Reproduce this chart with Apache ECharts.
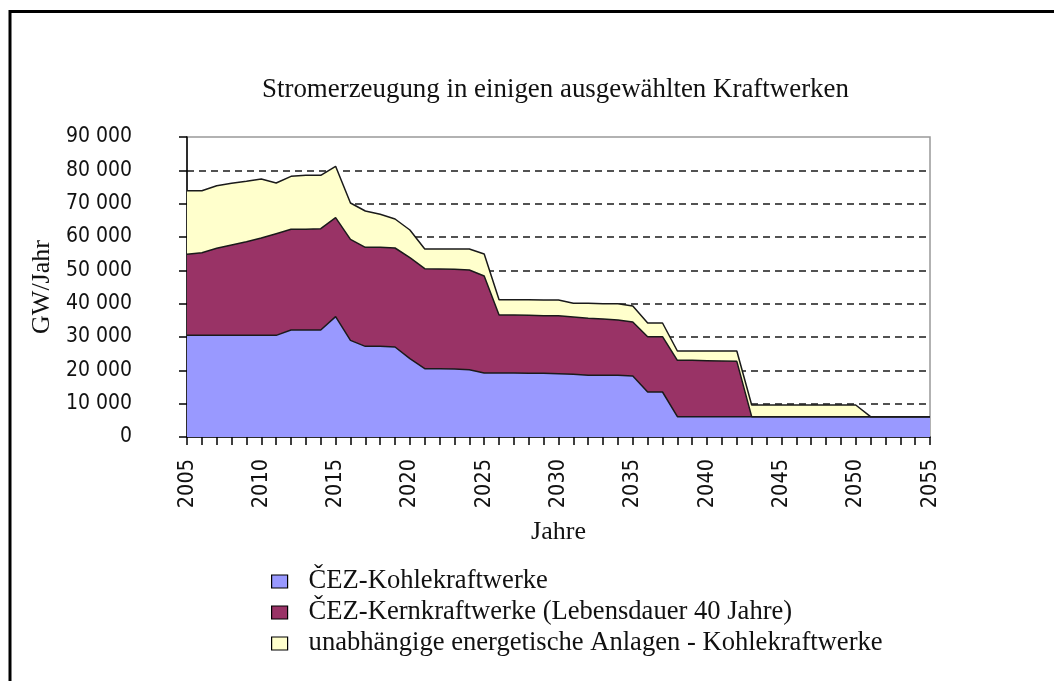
<!DOCTYPE html>
<html>
<head>
<meta charset="utf-8">
<script src="https://cdn.jsdelivr.net/npm/echarts@6/dist/echarts.min.js"></script>
<style>
  html, body { margin: 0; padding: 0; background: #fff; }
  #container { width: 1054px; height: 681px; }
</style>
</head>
<body>
<div id="container"></div>
<script>
// Jahre auf der x-Achse
var years = ['2005','2006','2007','2008','2009','2010','2011','2012','2013','2014',
  '2015','2016','2017','2018','2019','2020','2021','2022','2023','2024',
  '2025','2026','2027','2028','2029','2030','2031','2032','2033','2034',
  '2035','2036','2037','2038','2039','2040','2041','2042','2043','2044',
  '2045','2046','2047','2048','2049','2050','2051','2052','2053','2054','2055'];

// ČEZ-Kohlekraftwerke (GW/Jahr)
var kohleCez = [30500,30500,30500,30500,30500,30500,30500,32100,32100,32100,
  36100,29000,27200,27200,27000,23500,20500,20500,20400,20200,
  19200,19200,19200,19100,19100,19000,18800,18500,18500,18500,
  18300,13500,13500,6100,6100,6100,6100,6100,6100,6100,
  6100,6100,6100,6100,6100,6100,6100,6100,6100,6100,6100];

// ČEZ-Kernkraftwerke (Lebensdauer 40 Jahre)
var kernCez = [24300,24800,26100,27100,28100,29200,30500,30200,30200,30400,
  29700,30300,29700,29700,29700,30300,30000,29900,29900,29900,
  29100,17400,17400,17400,17300,17400,17200,17100,16900,16600,
  16200,16600,16600,16900,16900,16800,16700,16600,0,0,
  0,0,0,0,0,0,0,0,0,0,0];

// unabhängige energetische Anlagen - Kohlekraftwerke
var kohleUnabh = [19100,18600,18800,18500,18100,17700,15200,15900,16200,16000,
  15400,10900,10900,9900,8700,8300,5900,6000,6100,6300,
  6600,4600,4600,4700,4700,4700,4100,4500,4600,4900,
  4800,4100,4100,2800,2800,2900,3000,3100,3500,3500,
  3500,3500,3500,3500,3500,3500,0,0,0,0,0];

var seriesNames = ['ČEZ-Kohlekraftwerke', 'ČEZ-Kernkraftwerke (Lebensdauer 40 Jahre)',
  'unabhängige energetische Anlagen - Kohlekraftwerke'];
var seriesColors = ['#9999ff', '#993366', '#ffffcc'];
var seriesData = [kohleCez, kernCez, kohleUnabh];

var narrow = "'Liberation Sans Narrow', 'DejaVu Sans Condensed', 'Arial Narrow', sans-serif";
var serif = "'Liberation Serif', 'DejaVu Serif', serif";

// gestrichelte Linien nur zwischen 0 und 90 000
var gridColors = ['rgba(0,0,0,0)'];
for (var i = 1; i < 9; i++) gridColors.push('#1a1a1a');
gridColors.push('rgba(0,0,0,0)');

var dom = document.getElementById('container');
var myChart = echarts.init(dom, null, { renderer: 'canvas' });

var option = {
  backgroundColor: '#ffffff',
  animation: false,
  graphic: [{
    type: 'rect',
    shape: { x: 10, y: 11.5, width: 1200, height: 900 },
    style: { fill: 'none', stroke: '#000', lineWidth: 3 },
    silent: true
  }],
  title: {
    text: 'Stromerzeugung in einigen ausgewählten Kraftwerken',
    left: 257,
    top: 71,
    textStyle: { fontFamily: serif, fontSize: 26.9, fontWeight: 'normal', color: '#111' }
  },
  legend: {
    orient: 'vertical',
    left: 266,
    top: 563,
    icon: 'rect',
    itemWidth: 16,
    itemHeight: 13,
    itemGap: 4,
    itemStyle: { borderColor: '#000', borderWidth: 1.2 },
    textStyle: { fontFamily: serif, fontSize: 26.6, color: '#111', lineHeight: 24, padding: [0, 0, 0, 16] },
    data: seriesNames
  },
  grid: {
    left: 187,
    right: 124,
    top: 137,
    bottom: 244,
    show: true,
    borderColor: '#999',
    borderWidth: 1.5,
    backgroundColor: 'rgba(0,0,0,0)'
  },
  xAxis: {
    type: 'category',
    data: years,
    boundaryGap: false,
    name: 'Jahre',
    nameLocation: 'middle',
    nameGap: 82,
    nameTextStyle: { fontFamily: serif, fontSize: 26, color: '#111' },
    axisLine: { lineStyle: { color: '#000', width: 1.5 } },
    axisTick: { show: true, interval: 0, length: 8, lineStyle: { color: '#000', width: 1.5 } },
    axisLabel: {
      interval: 4,
      rotate: 90,
      margin: 22,
      fontFamily: narrow,
      fontSize: 21.5,
      color: '#111'
    },
    splitLine: { show: false }
  },
  yAxis: {
    type: 'value',
    min: 0,
    max: 90000,
    interval: 10000,
    name: 'GW/Jahr',
    nameLocation: 'middle',
    nameGap: 131,
    nameRotate: 90,
    nameTextStyle: { fontFamily: serif, fontSize: 26, color: '#111' },
    axisLine: { show: true, lineStyle: { color: '#000', width: 1.5 } },
    axisTick: { show: true, length: 8, lineStyle: { color: '#000', width: 1.5 } },
    axisLabel: {
      margin: 55,
      fontFamily: narrow,
      fontSize: 21,
      color: '#111',
      formatter: function (v) {
        return String(v).replace(/\B(?=(\d{3})+(?!\d))/g, ' ');
      }
    },
    splitLine: {
      show: true,
      lineStyle: { color: gridColors, type: [7, 5], width: 1.5 }
    }
  },
  series: seriesNames.map(function (name, idx) {
    return {
      name: name,
      type: 'line',
      stack: 'total',
      data: seriesData[idx],
      showSymbol: false,
      symbol: 'none',
      itemStyle: { color: seriesColors[idx] },
      lineStyle: { color: '#1a1a1a', width: 1.5 },
      areaStyle: { color: seriesColors[idx], opacity: 1 }
    };
  })
};

myChart.setOption(option);
window.addEventListener('resize', myChart.resize);
</script>
</body>
</html>
